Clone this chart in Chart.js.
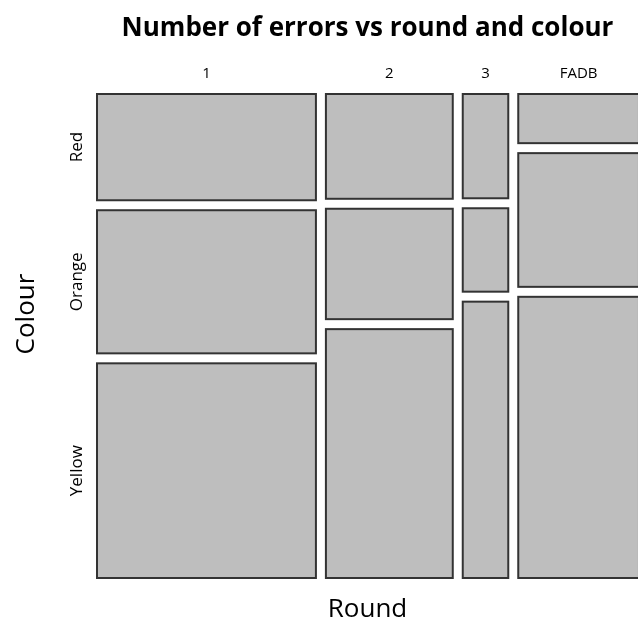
<!DOCTYPE html>
<html>
<head>
<meta charset="utf-8">
<title>Number of errors vs round and colour</title>
<script src="https://cdn.jsdelivr.net/npm/chart.js@4.4.1/dist/chart.umd.min.js"></script>
<style>
  html, body { margin: 0; padding: 0; background: #fff; }
  #wrap { width: 638px; height: 620px; }
</style>
</head>
<body>
<div id="wrap"><canvas id="mosaico" width="638" height="620"></canvas></div>
<script>
const rounds = ['1', '2', '3', 'FADB'];
const colours = ['Red', 'Orange', 'Yellow'];
const redErrors = [98, 56, 20, 25];
const orangeErrors = [132, 59, 16, 68];
const yellowErrors = [198, 133, 53, 143];

const series = [redErrors, orangeErrors, yellowErrors];
const colTotals = rounds.map((r, i) => series.reduce((s, arr) => s + arr[i], 0));
const grandTotal = colTotals.reduce((a, b) => a + b, 0);

// espacos entre os blocos (fracao do total)
const gapX = 0.0195 * grandTotal;
const gapY = 0.0215;

// posicao de cada coluna no eixo x
const colStart = [];
let acc = 0;
colTotals.forEach((t, i) => {
  colStart.push(acc);
  acc += t + gapX;
});
const colCenters = colTotals.map((t, i) => colStart[i] + t / 2);

// posicao das linhas de uma coluna
function rowsOf(i) {
  let y = 0;
  return series.map((arr, j) => {
    const h = arr[i] / colTotals[i];
    const r = { y0: y, y1: y + h };
    y += h + gapY;
    return r;
  });
}
// rotulos do eixo y ficam no centro das linhas da primeira coluna
const rowCenters = rowsOf(0).map(r => (r.y0 + r.y1) / 2);

// plugin que desenha os blocos do mosaico e o titulo "Colour"
const mosaicTiles = {
  id: 'mosaicTiles',
  beforeDatasetsDraw(chart) {
    const ctx = chart.ctx;
    const xs = chart.scales.x;
    const ys = chart.scales.y;
    ctx.save();
    ctx.fillStyle = '#bebebe';
    ctx.strokeStyle = '#333333';
    ctx.lineWidth = 2;
    rounds.forEach((r, i) => {
      const left = xs.getPixelForValue(colStart[i]);
      const right = xs.getPixelForValue(colStart[i] + colTotals[i]);
      rowsOf(i).forEach(row => {
        const top = ys.getPixelForValue(row.y0);
        const bottom = ys.getPixelForValue(row.y1);
        ctx.fillRect(left, top, right - left, bottom - top);
        ctx.strokeRect(left, top, right - left, bottom - top);
      });
    });
    ctx.restore();
  },
  afterDraw(chart) {
    // titulo do eixo y, centrado na altura da figura
    const ctx = chart.ctx;
    ctx.save();
    ctx.translate(27, chart.height / 2 + 4);
    ctx.rotate(-Math.PI / 2);
    ctx.font = "26px 'Open Sans', sans-serif";
    ctx.fillStyle = '#000';
    ctx.textAlign = 'center';
    ctx.textBaseline = 'middle';
    ctx.fillText('Colour', 0, 0);
    ctx.restore();
  }
};

Chart.defaults.color = '#000';
Chart.defaults.font.family = "'Open Sans', sans-serif";

const config = {
  type: 'scatter',
  data: {
    datasets: [{
      label: 'centros',
      data: colCenters.map(c => ({ x: c, y: 0.5 })),
      pointRadius: 0
    }]
  },
  options: {
    responsive: false,
    devicePixelRatio: 1,
    animation: false,
    layout: { padding: 0 },
    plugins: {
      legend: { display: false },
      tooltip: { enabled: false },
      title: {
        display: true,
        fullSize: false,
        text: 'Number of errors vs round and colour',
        font: { size: 26, weight: 'bold' },
        color: '#000',
        padding: { top: 13, bottom: 0 }
      }
    },
    scales: {
      x: {
        type: 'linear',
        position: 'bottom',
        min: 0,
        max: grandTotal * 1.0566,
        grid: { display: false, drawTicks: false },
        border: { display: false },
        ticks: { display: false },
        title: { display: true, text: 'Round', font: { size: 26 }, padding: { top: 0, bottom: -5 } },
        afterFit: (scale) => { scale.height = 42; }
      },
      x2: {
        type: 'linear',
        position: 'top',
        min: 0,
        max: grandTotal * 1.0566,
        grid: { display: false, drawTicks: false },
        border: { display: false },
        afterBuildTicks: (scale) => { scale.ticks = colCenters.map(v => ({ value: v })); },
        ticks: {
          font: { size: 15 },
          padding: 11,
          maxRotation: 0,
          autoSkip: false,
          callback: (v, i) => rounds[i]
        },
        afterFit: (scale) => { scale.height = 49.8; }
      },
      y: {
        type: 'linear',
        position: 'left',
        reverse: true,
        min: 0,
        max: 1 + 2 * gapY,
        grid: { display: false, drawTicks: false },
        border: { display: false },
        afterBuildTicks: (scale) => { scale.ticks = rowCenters.map(v => ({ value: v })); },
        ticks: {
          font: { size: 17 },
          minRotation: 90,
          maxRotation: 90,
          crossAlign: 'center',
          padding: -10,
          autoSkip: false,
          callback: (v, i) => colours[i]
        },
        afterFit: (scale) => { scale.width = 97; }
      }
    }
  },
  plugins: [mosaicTiles]
};

let graficoMosaico = new Chart(document.getElementById('mosaico'), config);
</script>
</body>
</html>
